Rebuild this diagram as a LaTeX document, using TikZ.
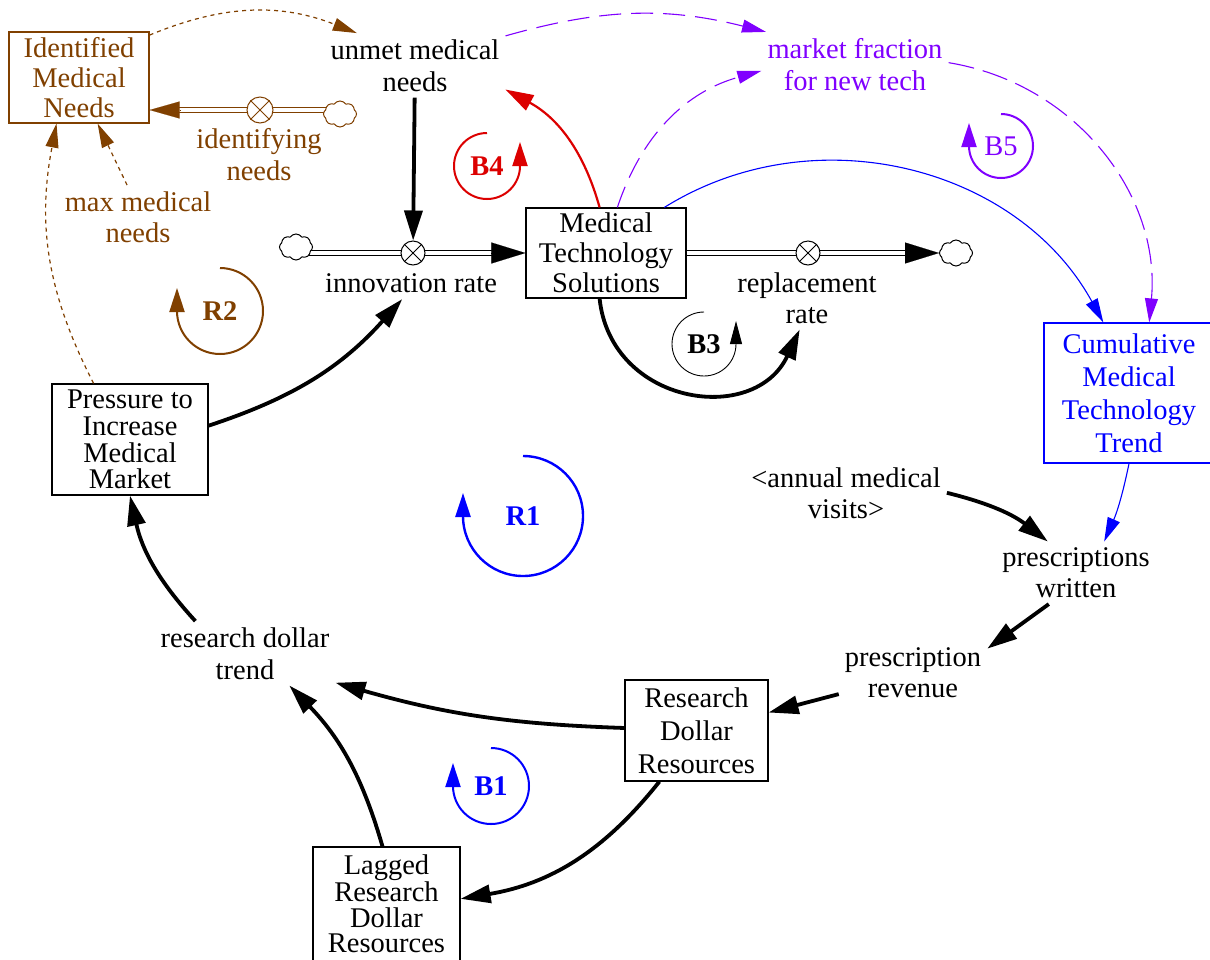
\documentclass[tikz,border=0pt]{standalone}
\usepackage{fontspec}
\setmainfont{Liberation Serif}
\usetikzlibrary{arrows.meta,shapes.symbols,calc}

\definecolor{vbrown}{RGB}{128,64,0}
\definecolor{vblue}{RGB}{0,0,255}
\definecolor{vpurple}{RGB}{128,0,255}
\definecolor{vred}{RGB}{220,0,0}

% font size 28.5pt with a chosen line distance
\newcommand{\fs}[1]{\fontsize{28.5pt}{#1pt}\selectfont}

\tikzset{
  var/.style={align=center, inner sep=6pt, font=\fs{32}},
  stock/.style={draw, line width=1.2pt, align=center, inner sep=0pt, font=\fs{30}},
  valve/.style={circle, draw, fill=white, line width=1pt, minimum size=24pt, inner sep=0pt},
  sink/.style={cloud, cloud puffs=8, cloud puff arc=110, cloud ignores aspect, draw, fill=white,
               line width=1pt, minimum width=33pt, minimum height=26pt, inner sep=0pt},
  pipe/.style={double=white, double distance=4pt, line width=1.2pt},
  flowtip/.style={line width=0.1pt, -{Triangle[length=34pt,width=21pt]}},
  heavylink/.style={line width=3.8pt, -{Triangle[length=30pt,width=18pt]}},
  lightlink/.style={line width=1.1pt, -{Triangle[length=24pt,width=13pt]}},
  redlink/.style={vred, line width=2.2pt, -{Triangle[length=28pt,width=17pt]}},
  purplelink/.style={vpurple, line width=1.1pt, dash pattern=on 22pt off 10pt,
                     -{Triangle[length=24pt,width=13pt]}},
  brownlink/.style={vbrown, line width=1.2pt, dash pattern=on 4pt off 4pt,
                    -{Triangle[length=24pt,width=13pt]}},
  looplabel/.style={inner sep=0pt, font=\fs{30}\bfseries},
  looptip/.style={-{Triangle[length=24pt,width=15pt]}},
}

\begin{document}
\begin{tikzpicture}[x=1pt,y=1pt]
\fill[white] (0,0) rectangle (1210,-959);
\useasboundingbox (0,0) rectangle (1210,-959);

% ---------- stocks and variables ----------
\node[stock, vbrown, minimum width=140pt, minimum height=91pt] (idn) at (79,-77.5) {Identified\\Medical\\Needs};
\node[var] (unmet) at (415,-65.3) {unmet medical\\needs};
\node[var, vpurple] (mft) at (855,-64.3) {market fraction\\for new tech};
\node[stock, minimum width=160pt, minimum height=90pt] (mts) at (606,-253) {Medical\\Technology\\Solutions};
\node[var] (innov) at (411,-283.3) {innovation rate};
\node[var, font=\fs{31}] (rr) at (807,-297.8) {replacement\\rate};
\node[stock, vblue, minimum width=170pt, minimum height=140pt, font=\fs{33}] (cmt) at (1129,-393) {Cumulative\\Medical\\Technology\\Trend};
\node[stock, minimum width=156pt, minimum height=111pt, font=\fs{26.7}] (press) at (130,-439.5) {Pressure to\\Increase\\Medical\\Market};
\node[var, font=\fs{31}] (amv) at (846,-492.8) {<annual medical\\visits>};
\node[var, font=\fs{31}] (pw) at (1076,-572.8) {prescriptions\\written};
\node[var, font=\fs{31}] (prev) at (913,-672.8) {prescription\\revenue};
\node[stock, minimum width=143pt, minimum height=101pt, font=\fs{33}] (rdr) at (696.5,-730.5) {Research\\Dollar\\Resources};
\node[var] (rdt) at (245,-653.3) {research dollar\\trend};
\node[stock, minimum width=147pt, minimum height=114pt, font=\fs{25.7}] (lag) at (386.5,-904) {Lagged\\Research\\Dollar\\Resources};
\node[var, vbrown] (idneed) at (259,-154.3) {identifying\\needs};
\node[var, vbrown, font=\fs{31}] (mmn) at (138,-216.8) {max medical\\needs};

% ---------- flows ----------
% innovation rate: source cloud -> valve -> stock
\coordinate (ciin) at (296,-253);
\draw[pipe] (ciin) -- ($(mts.west)+(-20,0)$);
\node[sink] (ci) at (296,-247) {};
\node[valve] (vi) at (413,-253) {};
\draw[line width=1pt] (vi.45) -- (vi.225) (vi.135) -- (vi.315);
\draw[flowtip] ($(mts.west)+(-34,0)$) -- (mts.west);

% replacement rate: stock -> valve -> sink cloud
\node[sink] (cr) at (956,-253) {};
\draw[pipe] (mts.east) -- ($(cr.west)+(-20,0)$);
\node[valve] (vr) at (808,-253) {};
\draw[line width=1pt] (vr.45) -- (vr.225) (vr.135) -- (vr.315);
\draw[flowtip] ($(cr.west)+(-34,0)$) -- (cr.west);

% identifying needs: source cloud -> valve -> stock
\coordinate (cidin) at (340,-110);
\draw[pipe, draw=vbrown] (cidin) -- ($(idn.east |- cidin)+(20,0)$);
\node[sink, draw=vbrown] (cid) at (340,-114) {};
\node[valve, draw=vbrown, minimum size=26pt] (vid) at (260,-110) {};
\draw[vbrown, line width=1pt] (vid.45) -- (vid.225) (vid.135) -- (vid.315);
\draw[flowtip, vbrown, -{Triangle[length=30pt,width=17pt]}] ($(idn.east |- cidin)+(30,0)$) -- (idn.east |- cidin);

% ---------- causal links ----------
\draw[heavylink] (unmet) -- (vi);
\draw[heavylink] (press.10.5) to[bend right=15] (innov.241);
\draw[heavylink] (rdr.178) to[bend left=7] (rdt.-18.6);
\draw[heavylink] (lag.94.5) to[bend right=14] (rdt.-36.4);
\draw[heavylink] (rdt.147.4) to[bend left=15] (press.south);
\draw[heavylink] (rdr.234.9) to[bend left=21] (lag.4.7);
\draw[heavylink] (prev.196.9) -- (rdr.14.5);
\draw[heavylink] (pw.229.7) -- (prev.18.3);
\draw[heavylink] (amv.0) to[bend left=12] (pw.132.4);
\draw[heavylink] (mts.262.5) to[out=-84, in=245, looseness=1.35] (rr.257.2);
\draw[lightlink, vblue] (cmt.south) to[bend left=6] (pw.48.8);
\draw[lightlink, vblue] (mts.38.6) to[bend left=46.6] (cmt.110.4);
\draw[redlink] (mts.98.7) to[bend right=23] (unmet.-15.4);
\draw[purplelink] (mts.76.9) to[bend left=28] (mft.184.7);
\draw[purplelink] (unmet.18.9) to[bend left=15] (mft.160.8);
\draw[purplelink, dash pattern=on 26pt off 9pt] (mft.1.4) to[bend left=43] (cmt.74.8);
\draw[brownlink] (idn.31.9) to[bend left=22] (unmet.151.2);
\draw[brownlink] (mmn.109) -- (idn.292.2);
\draw[brownlink] (press.123.9) to[bend left=19] (idn.244.7);

% ---------- loop markers ----------
\node[looplabel, vred] (b4) at (487,-166) {B4};
\draw[vred, line width=2pt, looptip] (b4.center) ++(0,33) arc[start angle=90, end angle=360, radius=33] -- ++(0,24);

\node[looplabel] (b3) at (704,-344) {B3};
\draw[line width=0.9pt, -{Triangle[length=23pt,width=12pt]}] (b3.center) ++(0,32) arc[start angle=90, end angle=360, radius=32] -- ++(0,23);

\node[looplabel, vpurple, font=\fs{30}] (b5) at (1001,-146) {B5};
\draw[vpurple, line width=2pt, looptip] (b5.center) ++(0,32) arc[start angle=90, end angle=-180, radius=32] -- ++(0,23);

\node[looplabel, vbrown] (r2) at (220,-311) {R2};
\draw[vbrown, line width=2pt, looptip] (r2.center) ++(0,43) arc[start angle=90, end angle=-180, radius=43] -- ++(0,23);

\node[looplabel, vblue] (r1) at (523,-516) {R1};
\draw[vblue, line width=2.4pt, looptip] (r1.center) ++(0,60) arc[start angle=90, end angle=-180, radius=60] -- ++(0,23);

\node[looplabel, vblue] (b1) at (491,-786) {B1};
\draw[vblue, line width=2pt, looptip] (b1.center) ++(0,38) arc[start angle=90, end angle=-180, radius=38] -- ++(0,23);
\end{tikzpicture}
\end{document}
